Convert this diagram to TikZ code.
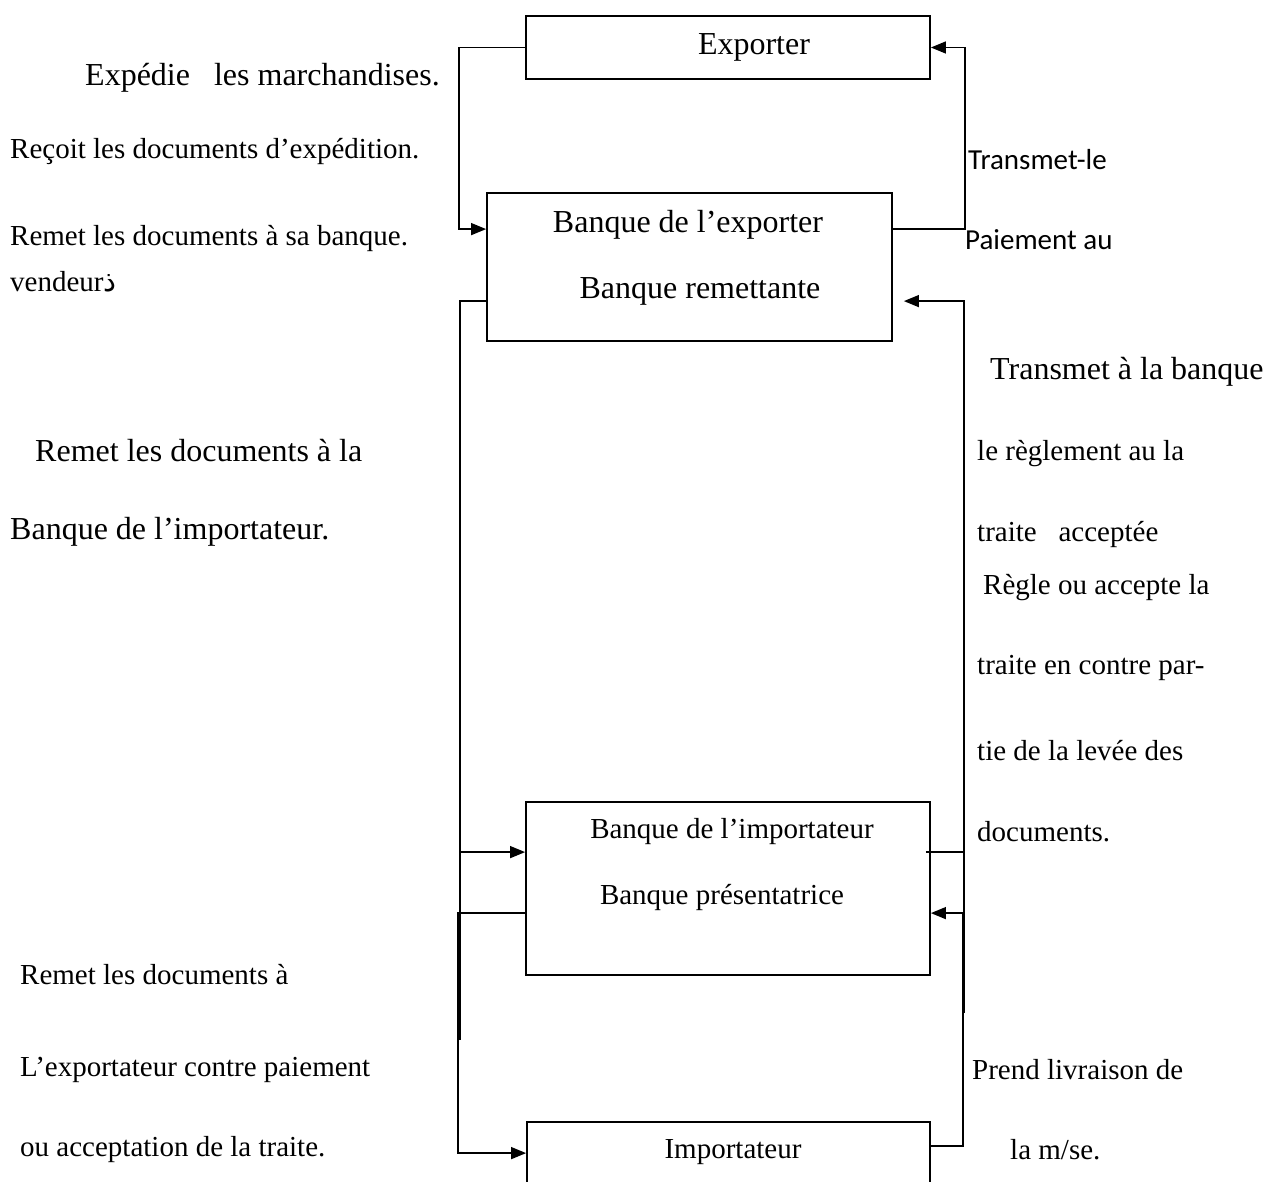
\documentclass[tikz,border=0pt]{standalone}
\usepackage{fontspec}
\setmainfont{Liberation Serif}
\newfontfamily\calibrifont{Carlito}
\newfontfamily\arabicfont[Script=Arabic]{DejaVu Sans}
\TeXXeTstate=1
\usetikzlibrary{arrows.meta}

\begin{document}
\begin{tikzpicture}[x=1pt,y=-1pt,
  box/.style={draw,line width=1.8pt,inner sep=0pt},
  conn/.style={line width=1.4pt},
  arr/.style={line width=1.4pt,-{Triangle[length=15pt,width=12pt]}},
  txt/.style={anchor=west,inner sep=0pt,font=\fontsize{29}{34}\selectfont},
  bigtxt/.style={anchor=west,inner sep=0pt,font=\fontsize{32}{38}\selectfont},
  intxt/.style={inner sep=0pt,font=\fontsize{29}{34}\selectfont},
  biginn/.style={inner sep=0pt,font=\fontsize{32}{38}\selectfont},
  sanstxt/.style={anchor=west,inner sep=0pt,font=\calibrifont\fontsize{29}{34}\selectfont}]
\path[use as bounding box,clip] (0,0) rectangle (1266,1182);

%boxes:
\node (exporter) [box,minimum width=404pt,minimum height=63pt] at (728,47.5) {};
\node (bqexp) [box,minimum width=405pt,minimum height=148pt] at (689.5,267) {};
\node (bqimp) [box,minimum width=404pt,minimum height=173pt] at (728,888.5) {};
\node (importateur) [box,minimum width=403pt,minimum height=90pt] at (728.5,1167) {};

\node (texp) [biginn] at (754,47) {Exporter};
\node (tbqexpa) [biginn] at (688,225) {Banque de l’exporter};
\node (tbqexpb) [biginn] at (700,291) {Banque remettante};
\node (tbqimpa) [intxt] at (732,832) {Banque de l’importateur};
\node (tbqimpb) [intxt] at (722,897) {Banque présentatrice};
\node (timp) [intxt] at (733,1152) {Importateur};

%left texts:
\node (expedie) [bigtxt] at (85,78) {Expédie\ \ \ les marchandises.};
\node (recoit) [txt] at (10,152) {Reçoit les documents d’expédition.};
\node (remet) [txt] at (10,239) {Remet les documents à sa banque.};
\node (vendeur) [txt] at (10,282) {vendeur{\arabicfont\beginR ذ\endR}};
\node (remetla) [bigtxt] at (35,451) {Remet les documents à la};
\node (bqimpor) [bigtxt] at (10,532) {Banque de l’importateur.};
\node (remeta) [txt] at (20,975) {Remet les documents à};
\node (lexport) [txt] at (20,1070) {L’exportateur contre paiement};
\node (ouaccept) [txt] at (20,1150) {ou acceptation de la traite.};

%right texts:
\node (transle) [sanstxt] at (968,160) {Transmet-le};
\node (paiement) [sanstxt] at (965,240) {Paiement au};
\node (transbq) [bigtxt] at (990,372) {Transmet à la banque};
\node (reglement) [txt] at (977,454) {le règlement au la};
\node (traiteacc) [txt] at (977,535) {traite\ \ \ acceptée};
\node (regle) [txt] at (983,588) {Règle ou accepte la};
\node (contre) [txt] at (977,668) {traite en contre par-};
\node (levee) [txt] at (977,751) {tie de la levée des};
\node (docs) [txt] at (977,832) {documents.};
\node (prend) [txt] at (972,1070) {Prend livraison de};
\node (mse) [txt] at (1010,1150) {la m/se.};

%connectors:
\coordinate (ltail) at (460,1040);
\coordinate (rtail) at (964,1013);
\draw [arr] (exporter.west) -- ++(-66,0) |- ([yshift=-37pt]bqexp.north west);
\draw [arr] ([yshift=-37pt]bqexp.north east) -- ++(72,0) |- (exporter.east);
\draw [conn] ([yshift=-109pt]bqexp.north west) -| (ltail);
\draw [arr] (ltail) |- ([yshift=-51pt]bqimp.north west);
\draw [arr] ([yshift=-112pt]bqimp.north west) -- ++(-67,0) |- ([yshift=-32pt]importateur.north west);
\draw [arr] (rtail) |- ([xshift=11pt,yshift=-109pt]bqexp.north east);
\draw [conn] ([xshift=-5pt,yshift=-51pt]bqimp.north east) -- ++(39,0);
\draw [arr] ([yshift=-25pt]importateur.north east) -- ++(32,0) |- ([yshift=-112pt]bqimp.north east);
\end{tikzpicture}
\end{document}
